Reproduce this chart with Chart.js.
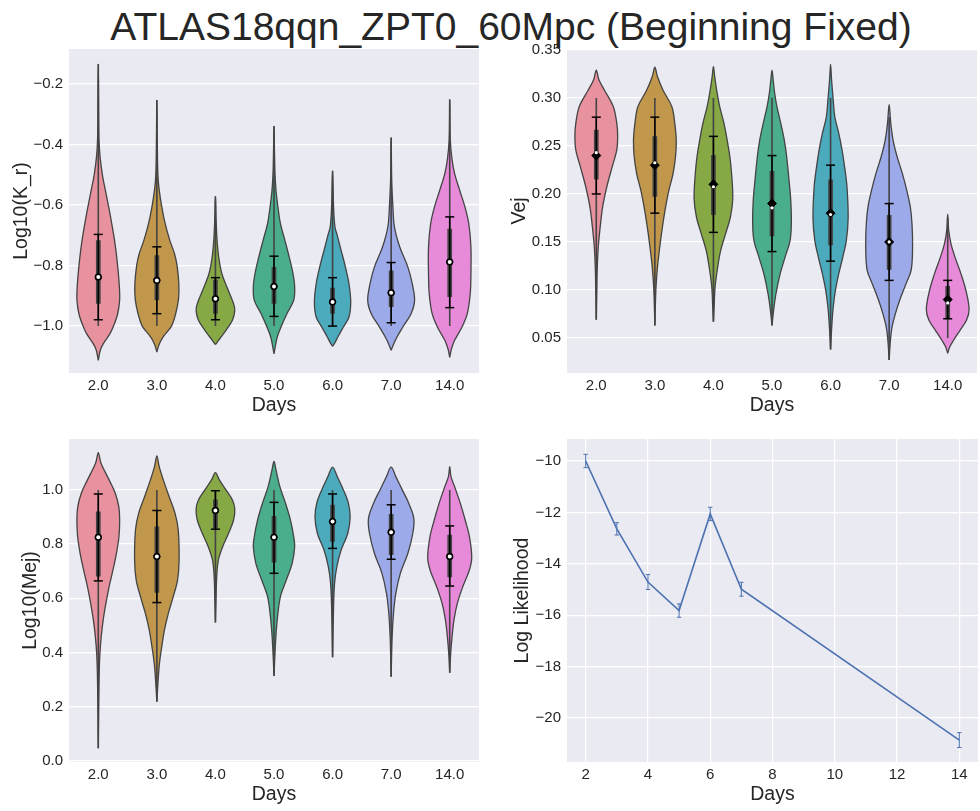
<!DOCTYPE html>
<html>
<head>
<meta charset="utf-8">
<script src="https://cdn.jsdelivr.net/npm/chart.js@4.4.0/dist/chart.umd.min.js"></script>
<style>
  html, body { margin: 0; padding: 0; background: #fff; overflow: hidden; width: 980px; height: 811px; }
  #title { position: absolute; left: 0; top: 4px; width: 1022px; text-align: center; line-height: 45px;
           font-family: 'Liberation Sans', Arial, sans-serif; font-size: 39px; color: #262626; white-space: nowrap; }
  .panel { position: absolute; }
</style>
</head>
<body>
<div id="title">ATLAS18qqn_ZPT0_60Mpc (Beginning Fixed)</div>
<div class="panel" style="left:0;top:29px;width:485px;height:390px"><canvas id="krChart"></canvas></div>
<div class="panel" style="left:490px;top:29px;width:493px;height:390px"><canvas id="vejChart"></canvas></div>
<div class="panel" style="left:0;top:419px;width:485px;height:389px"><canvas id="mejChart"></canvas></div>
<div class="panel" style="left:490px;top:419px;width:493px;height:389px"><canvas id="llChart"></canvas></div>
<script>
// categories
const days = ["2.0", "3.0", "4.0", "5.0", "6.0", "7.0", "14.0"];
const palette = ["#e8929f", "#c0974b", "#86a946", "#4aae8c", "#4babbd", "#9caae9", "#e78ad9"];

// Log10(K_r): violin outlines as [value, half width], bottom tip to top tip
const krShapes = [
  [[-1.113,0],[-1.08,0.034],[-1.059,0.084],[-1.025,0.2],[-1.0,0.26],[-0.96,0.33],[-0.915,0.364],[-0.87,0.36],[-0.8,0.33],[-0.72,0.28],[-0.64,0.21],[-0.56,0.13],[-0.5,0.07],[-0.44,0.03],[-0.38,0.012],[-0.25,0.006],[-0.134,0]],
  [[-1.086,0],[-1.06,0.04],[-1.035,0.11],[-1.0,0.25],[-0.96,0.32],[-0.91,0.37],[-0.86,0.375],[-0.8,0.345],[-0.76,0.3],[-0.716,0.22],[-0.66,0.14],[-0.606,0.084],[-0.55,0.04],[-0.5,0.018],[-0.4,0.008],[-0.253,0]],
  [[-1.061,0],[-1.036,0.095],[-1.014,0.18],[-0.981,0.29],[-0.948,0.33],[-0.926,0.31],[-0.882,0.22],[-0.827,0.11],[-0.772,0.056],[-0.716,0.028],[-0.65,0.012],[-0.571,0]],
  [[-1.092,0],[-1.07,0.02],[-1.036,0.056],[-1.003,0.12],[-0.959,0.22],[-0.915,0.336],[-0.871,0.353],[-0.827,0.325],[-0.772,0.26],[-0.716,0.185],[-0.661,0.11],[-0.606,0.067],[-0.551,0.034],[-0.496,0.017],[-0.42,0.008],[-0.339,0]],
  [[-1.067,0],[-1.053,0.045],[-1.036,0.09],[-1.003,0.185],[-0.97,0.28],[-0.92,0.31],[-0.86,0.28],[-0.805,0.22],[-0.738,0.13],[-0.7,0.08],[-0.672,0.04],[-0.606,0.017],[-0.487,0]],
  [[-1.08,0],[-1.058,0.045],[-1.036,0.1],[-1.003,0.2],[-0.959,0.34],[-0.915,0.4],[-0.86,0.36],[-0.805,0.286],[-0.738,0.146],[-0.672,0.056],[-0.606,0.03],[-0.518,0.01],[-0.377,0]],
  [[-1.103,0],[-1.075,0.03],[-1.047,0.084],[-1.003,0.21],[-0.959,0.3],[-0.893,0.35],[-0.827,0.362],[-0.738,0.362],[-0.661,0.325],[-0.606,0.26],[-0.551,0.17],[-0.496,0.084],[-0.45,0.04],[-0.385,0.01],[-0.251,0]]
];
const krWhisker = [[-1,-0.134],[-1,-0.253],[-1,-0.571],[-1,-0.339],[-1,-0.487],[-1,-0.377],[-1,-0.251]];
const krBox = [[-0.926,-0.716],[-0.915,-0.766],[-0.959,-0.847],[-0.926,-0.805],[-0.959,-0.873],[-0.937,-0.816],[-0.904,-0.678]];
const krMedian = [-0.838,-0.849,-0.91,-0.869,-0.92,-0.89,-0.788];
const krMean = [-0.838,-0.849,-0.91,-0.869,-0.92,-0.89,-0.788];
const krErr = [[-0.979,-0.697],[-0.959,-0.738],[-0.979,-0.84],[-0.968,-0.769],[-1.0,-0.84],[-0.989,-0.79],[-0.939,-0.639]];
const krTicks = [-1.0, -0.8, -0.6, -0.4, -0.2];

// Vej
const vejShapes = [
  [[0.069,0],[0.096,0.008],[0.124,0.017],[0.145,0.034],[0.166,0.067],[0.187,0.11],[0.2075,0.18],[0.228,0.27],[0.246,0.35],[0.26,0.365],[0.2735,0.35],[0.291,0.29],[0.308,0.14],[0.319,0.045],[0.329,0]],
  [[0.063,0],[0.082,0.008],[0.103,0.02],[0.124,0.045],[0.145,0.084],[0.166,0.13],[0.187,0.185],[0.204,0.24],[0.221,0.31],[0.239,0.353],[0.256,0.365],[0.2735,0.34],[0.291,0.29],[0.308,0.14],[0.322,0.045],[0.332,0]],
  [[0.067,0],[0.082,0.012],[0.103,0.028],[0.124,0.073],[0.141,0.123],[0.159,0.21],[0.176,0.29],[0.195,0.33],[0.221,0.31],[0.239,0.28],[0.256,0.235],[0.2735,0.18],[0.291,0.107],[0.308,0.056],[0.322,0.022],[0.333,0]],
  [[0.063,0],[0.079,0.028],[0.096,0.067],[0.117,0.14],[0.1345,0.225],[0.152,0.31],[0.17,0.33],[0.1936,0.32],[0.2144,0.29],[0.239,0.25],[0.256,0.21],[0.2735,0.15],[0.291,0.084],[0.305,0.045],[0.319,0.02],[0.329,0]],
  [[0.038,0],[0.0615,0.02],[0.082,0.045],[0.1,0.084],[0.117,0.14],[0.1345,0.21],[0.152,0.27],[0.175,0.3],[0.2075,0.28],[0.228,0.24],[0.2457,0.196],[0.263,0.14],[0.28,0.073],[0.298,0.045],[0.319,0.017],[0.335,0]],
  [[0.027,0],[0.0476,0.022],[0.0615,0.05],[0.0754,0.107],[0.0893,0.18],[0.1067,0.29],[0.1206,0.376],[0.145,0.4],[0.169,0.39],[0.187,0.36],[0.204,0.3],[0.2214,0.225],[0.239,0.135],[0.256,0.067],[0.2735,0.028],[0.293,0]],
  [[0.034,0],[0.0406,0.034],[0.0476,0.1],[0.058,0.21],[0.0684,0.32],[0.08,0.365],[0.0997,0.31],[0.117,0.225],[0.1345,0.123],[0.148,0.056],[0.162,0.017],[0.179,0]]
];
const vejWhisker = [[0.069,0.30],[0.063,0.30],[0.067,0.30],[0.063,0.30],[0.038,0.30],[0.027,0.28],[0.05,0.175]];
const vejBox = [[0.215,0.267],[0.197,0.26],[0.178,0.2405],[0.156,0.224],[0.1466,0.215],[0.121,0.178],[0.07,0.104]];
const vejMedian = [0.243,0.2325,0.2075,0.1856,0.1786,0.15,0.0865];
const vejMean = [0.24,0.23,0.21,0.19,0.18,0.15,0.09];
const vejErr = [[0.20,0.28],[0.18,0.28],[0.16,0.26],[0.14,0.24],[0.13,0.23],[0.11,0.19],[0.07,0.11]];
const vejTicks = [0.05, 0.10, 0.15, 0.20, 0.25, 0.30, 0.35];

// Log10(Mej)
const mejShapes = [
  [[0.046,0],[0.212,0.008],[0.335,0.017],[0.397,0.028],[0.458,0.05],[0.52,0.084],[0.581,0.13],[0.643,0.185],[0.704,0.25],[0.766,0.31],[0.828,0.353],[0.89,0.365],[0.938,0.35],[0.988,0.29],[1.037,0.185],[1.099,0.045],[1.138,0]],
  [[0.218,0],[0.298,0.022],[0.36,0.045],[0.421,0.084],[0.483,0.13],[0.544,0.196],[0.606,0.28],[0.667,0.353],[0.74,0.38],[0.852,0.365],[0.914,0.31],[0.975,0.21],[1.037,0.11],[1.086,0.04],[1.126,0]],
  [[0.51,0],[0.594,0.01],[0.68,0.022],[0.741,0.05],[0.79,0.123],[0.84,0.224],[0.889,0.31],[0.93,0.33],[0.963,0.29],[1.0,0.18],[1.037,0.067],[1.064,0]],
  [[0.313,0],[0.421,0.022],[0.483,0.04],[0.544,0.067],[0.606,0.11],[0.667,0.21],[0.729,0.31],[0.79,0.353],[0.828,0.336],[0.889,0.28],[0.951,0.196],[1.012,0.1],[1.074,0.034],[1.105,0]],
  [[0.382,0],[0.569,0.017],[0.655,0.034],[0.717,0.073],[0.778,0.146],[0.84,0.26],[0.9,0.3],[0.951,0.27],[1.0,0.185],[1.049,0.08],[1.084,0]],
  [[0.31,0],[0.458,0.017],[0.544,0.04],[0.618,0.08],[0.692,0.157],[0.766,0.286],[0.84,0.37],[0.895,0.387],[0.951,0.3],[1.0,0.19],[1.049,0.08],[1.084,0]],
  [[0.325,0],[0.397,0.017],[0.458,0.04],[0.52,0.073],[0.581,0.13],[0.643,0.224],[0.704,0.336],[0.75,0.376],[0.828,0.336],[0.889,0.264],[0.951,0.18],[1.012,0.084],[1.049,0.022],[1.086,0]]
];
const mejWhisker = [[0.046,1.0],[0.218,1.0],[0.51,1.0],[0.313,1.0],[0.382,1.0],[0.31,1.0],[0.325,1.0]];
const mejBox = [[0.68,0.92],[0.62,0.865],[0.858,0.965],[0.732,0.904],[0.809,0.945],[0.76,0.911],[0.677,0.834]];
const mejMedian = [0.825,0.754,0.924,0.825,0.883,0.844,0.754];
const mejMean = [0.825,0.754,0.924,0.825,0.883,0.844,0.754];
const mejErr = [[0.664,0.985],[0.584,0.924],[0.855,0.997],[0.692,0.954],[0.784,0.985],[0.744,0.945],[0.645,0.867]];
const mejTicks = [0.0, 0.2, 0.4, 0.6, 0.8, 1.0];

// Log Likelihood
const llDays = [2, 3, 4, 5, 6, 7, 14];
const llValues = [-10.0, -12.64, -14.71, -15.82, -12.06, -14.99, -20.86];
const llErrors = [0.26, 0.24, 0.29, 0.26, 0.26, 0.27, 0.29];
const llXTicks = [2, 4, 6, 8, 10, 12, 14];
const llYTicks = [-20, -18, -16, -14, -12, -10];

Chart.defaults.font.family = "'Liberation Sans', Arial, sans-serif";
const textColor = "#262626";
const outline = "#444444";
const minus = s => s.replace("-", "\u2212");

const bgPlugin = {
  id: "bg",
  beforeDraw(chart) {
    const { ctx, chartArea: a } = chart;
    ctx.save();
    ctx.fillStyle = "#EAEAF2";
    ctx.fillRect(a.left, a.top, a.width, a.height);
    ctx.restore();
  }
};

// vertical segments lo..hi at each x, split by null points
function segments(xs, pairs) {
  const d = [];
  pairs.forEach(([lo, hi], i) => d.push({ x: xs[i], y: lo }, { x: xs[i], y: hi }, { x: xs[i], y: null }));
  return d;
}

function makeOptions(cfg) {
  return {
    responsive: true,
    maintainAspectRatio: false,
    animation: false,
    layout: { padding: { top: 20 } },
    plugins: { legend: { display: false }, tooltip: { enabled: false } },
    scales: {
      x: {
        type: "linear", min: cfg.xMin, max: cfg.xMax,
        afterBuildTicks: s => { s.ticks = cfg.xTicks.map(v => ({ value: v })); },
        afterFit: s => { s.height = 46; },
        ticks: { callback: cfg.xFmt, padding: 4, font: { size: 15 }, color: textColor, maxRotation: 0, autoSkip: false },
        grid: { display: cfg.xGrid, color: "#ffffff", lineWidth: 1.2, drawTicks: false },
        border: { display: false },
        title: { display: true, text: "Days", color: textColor, font: { size: 19.5 }, padding: { top: 0, bottom: 2 } }
      },
      y: {
        type: "linear", min: cfg.yMin, max: cfg.yMax,
        afterBuildTicks: s => { s.ticks = cfg.yTicks.map(v => ({ value: v })); },
        afterFit: s => { s.width = cfg.yWidth; },
        ticks: { callback: cfg.yFmt, padding: 6, font: { size: 15 }, color: textColor, autoSkip: false },
        grid: { color: "#ffffff", lineWidth: 1.2, drawTicks: false },
        border: { display: false },
        title: { display: true, text: cfg.yTitle, color: textColor, font: { size: 19.5 }, padding: { top: cfg.yTitlePad, bottom: 0 } }
      }
    }
  };
}

function violinChart(id, shapes, whisker, box, median, mean, err, style, cfg) {
  const xs = days.map((d, i) => i);
  const datasets = [];
  shapes.forEach((shape, i) => {
    const right = shape.map(([v, w]) => ({ x: i + w, y: v }));
    const left = shape.slice().reverse().map(([v, w]) => ({ x: i - w, y: v }));
    datasets.push({
      data: right.concat(left.slice(1)), showLine: true, fill: "shape",
      backgroundColor: palette[i], borderColor: outline, borderWidth: 1.3,
      tension: 0.35, pointRadius: 0, order: 6
    });
  });
  datasets.push({ data: segments(xs, whisker), showLine: true, borderColor: outline, borderWidth: 1.6, pointRadius: 0, order: 5 });
  datasets.push({ data: segments(xs, box), showLine: true, borderColor: outline, borderWidth: 4.7, borderCapStyle: "butt", pointRadius: 0, order: 4 });
  datasets.push({
    data: segments(xs, err), showLine: true, borderColor: "#000", borderWidth: 1.5,
    pointStyle: "line", pointRadius: 4.5, pointBorderColor: "#000", pointBorderWidth: 1.5, order: 3
  });
  datasets.push({
    data: mean.map((m, i) => ({ x: i, y: m })), showLine: false,
    pointStyle: style.meanStyle, pointRadius: style.meanRadius, pointBackgroundColor: "#000",
    pointBorderColor: "#000", pointBorderWidth: 1, order: 2
  });
  datasets.push({
    data: median.map((m, i) => ({ x: i, y: m })), showLine: false,
    pointStyle: "circle", pointRadius: style.medianRadius, pointBackgroundColor: "#fff",
    pointBorderWidth: 0, order: 1
  });
  new Chart(document.getElementById(id), {
    type: "scatter",
    data: { datasets },
    options: makeOptions(Object.assign({
      xMin: -0.5, xMax: 6.5, xTicks: xs, xFmt: v => days[v], xGrid: false
    }, cfg)),
    plugins: [bgPlugin]
  });
}

violinChart("krChart", krShapes, krWhisker, krBox, krMedian, krMean, krErr,
  { meanStyle: "circle", meanRadius: 3.3, medianRadius: 2 },
  { yMin: -1.155, yMax: -0.0843, yTicks: krTicks, yFmt: v => minus(v.toFixed(1)), yWidth: 69, yTitle: "Log10(K_r)", yTitlePad: 10 });

violinChart("vejChart", vejShapes, vejWhisker, vejBox, vejMedian, vejMean, vejErr,
  { meanStyle: "rectRot", meanRadius: 4.5, medianRadius: 1.6 },
  { yMin: 0.0135, yMax: 0.351, yTicks: vejTicks, yFmt: v => v.toFixed(2), yWidth: 77, yTitle: "Vej", yTitlePad: 18 });

violinChart("mejChart", mejShapes, mejWhisker, mejBox, mejMedian, mejMean, mejErr,
  { meanStyle: "circle", meanRadius: 3.3, medianRadius: 2 },
  { yMin: -0.0048, yMax: 1.188, yTicks: mejTicks, yFmt: v => v.toFixed(1), yWidth: 69, yTitle: "Log10(Mej)", yTitlePad: 18.5 });

new Chart(document.getElementById("llChart"), {
  type: "scatter",
  data: {
    datasets: [
      {
        data: llDays.map((d, i) => ({ x: d, y: llValues[i] })), showLine: true,
        borderColor: "#4c72b0", borderWidth: 1.6, pointRadius: 0, tension: 0, order: 2
      },
      {
        data: segments(llDays, llValues.map((v, i) => [v - llErrors[i], v + llErrors[i]])), showLine: true,
        borderColor: "#4c72b0", borderWidth: 1, pointStyle: "line", pointRadius: 2.2,
        pointBorderColor: "#4c72b0", pointBorderWidth: 1, order: 1
      }
    ]
  },
  options: makeOptions({
    xMin: 1.4, xMax: 14.6, xTicks: llXTicks, xFmt: v => String(v), xGrid: true,
    yMin: -21.712, yMax: -9.144, yTicks: llYTicks, yFmt: v => minus(String(v)), yWidth: 77,
    yTitle: "Log Likelihood", yTitlePad: 21
  }),
  plugins: [bgPlugin]
});
</script>
</body>
</html>
